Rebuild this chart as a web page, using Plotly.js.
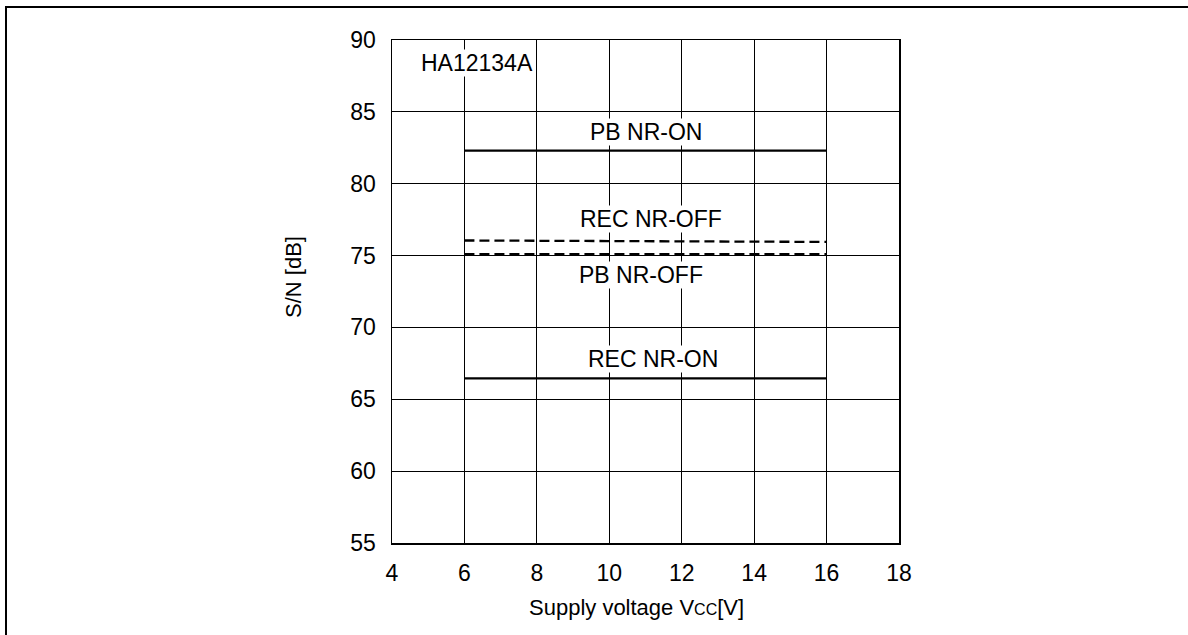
<!DOCTYPE html>
<html>
<head>
<meta charset="utf-8">
<script src="https://cdn.plot.ly/plotly-3.0.1.min.js"></script>
<style>
  html, body { margin:0; padding:0; background:#fff; overflow:hidden; }
  #frame { position:absolute; left:5px; top:6px; width:2000px; height:2000px;
           border-left:2px solid #000; border-top:2px solid #000; pointer-events:none; z-index:5; }
  #chart { position:absolute; left:0; top:0; width:1188px; height:635px; }
</style>
</head>
<body>
<div id="chart"></div>
<div id="frame"></div>
<script>
// Data
const seriesNames = ["PB NR-ON", "REC NR-OFF", "PB NR-OFF", "REC NR-ON"];
const voltage = [6, 16];
const pbNrOn = [82.3, 82.3];
const recNrOff = [76.05, 75.95];
const pbNrOff = [75.1, 75.1];
const recNrOn = [66.45, 66.45];
const xTicks = [4, 6, 8, 10, 12, 14, 16, 18];
const yTicks = [55, 60, 65, 70, 75, 80, 85, 90];
// label anchor positions (data coords)
const labelX = [11.0, 11.15, 10.88, 11.2];
const labelY = [83.6, 77.55, 73.65, 67.8];

const font = "Liberation Sans, Arial, sans-serif";
const FS = 23;
const values = [pbNrOn, recNrOff, pbNrOff, recNrOn];
const dashes = ["solid", "10px,5px", "10px,5px", "solid"];

const traces = values.map((v, i) => ({
  x: voltage, y: v, mode: "lines", name: seriesNames[i],
  line: { color: "#000", width: 2.3, dash: dashes[i] },
  hoverinfo: "skip"
}));

const annotations = seriesNames.map((n, i) => ({
  x: labelX[i], y: labelY[i], xref: "x", yref: "y", text: n, showarrow: false,
  font: { family: font, size: FS, color: "#000" }, bgcolor: "#fff", borderpad: 0
}));
annotations.push({
  x: 4.78, y: 88.4, xref: "x", yref: "y", text: "HA12134A", showarrow: false, xanchor: "left",
  font: { family: font, size: FS, color: "#000" }, bgcolor: "#fff", borderpad: 0
});

// pixel frame of the plot area
const L = 392, R = 899, T = 40, B = 543;
annotations.push({
  x: (293 - L) / (R - L), y: (B - 277) / (B - T), xref: "paper", yref: "paper",
  xanchor: "center", yanchor: "middle",
  text: "S/N [dB]", showarrow: false, textangle: -90,
  font: { family: font, size: 22, color: "#000" }
});
annotations.push({
  x: (636 - L) / (R - L), y: (B - 607) / (B - T), xref: "paper", yref: "paper",
  xanchor: "center", yanchor: "middle",
  text: "Supply voltage V<span style=\"font-size:16px\">CC</span>[V]", showarrow: false,
  font: { family: font, size: 22, color: "#000" }
});

const layout = {
  width: 1188, height: 635,
  margin: { l: L, r: 1188 - R, t: T, b: 635 - B, pad: 0 },
  paper_bgcolor: "#fff", plot_bgcolor: "#fff",
  showlegend: false,
  font: { family: font, size: FS, color: "#000" },
  xaxis: {
    range: [4, 18], tickvals: xTicks, ticktext: xTicks.map(String),
    showgrid: true, gridcolor: "#000", gridwidth: 1,
    showline: true, linecolor: "#000", linewidth: 1.5, mirror: true,
    zeroline: false, ticks: "", ticklabelstandoff: 9,
    tickfont: { family: font, size: FS, color: "#000" }, fixedrange: true
  },
  yaxis: {
    range: [55, 90], tickvals: yTicks, ticktext: yTicks.map(String),
    showgrid: true, gridcolor: "#000", gridwidth: 1,
    showline: true, linecolor: "#000", linewidth: 1.5, mirror: true,
    zeroline: false, ticks: "", ticklabelstandoff: 10,
    tickfont: { family: font, size: FS, color: "#000" }, fixedrange: true
  },
  annotations: annotations
};

Plotly.newPlot("chart", traces, layout, { displayModeBar: false, staticPlot: true });
</script>
</body>
</html>
